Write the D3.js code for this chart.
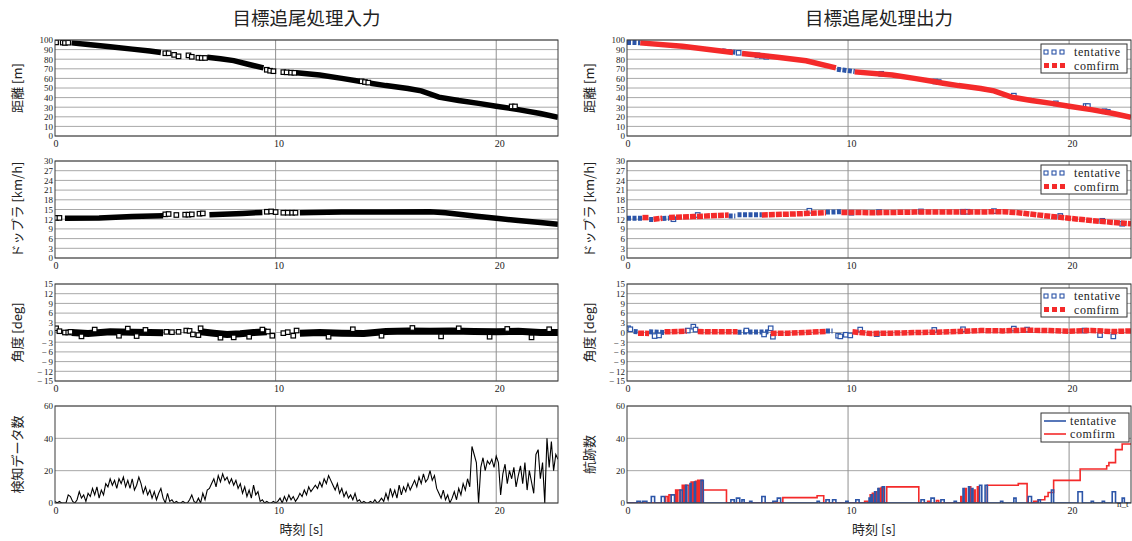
<!DOCTYPE html>
<meta charset="utf-8">
<script src="https://cdn.jsdelivr.net/npm/d3@7"></script>
<style>
body { margin: 0; background: #fff; }
svg text { font-family: "Liberation Serif", serif; fill: #222; }
.jp { font-family: "Noto Sans CJK JP", sans-serif; }
</style>
<body>
<script>

var width = 1132
var height = 541
var tMax = 22.8

// ---- labels / ticks ----
var titles = ["目標追尾処理入力", "目標追尾処理出力"]
var yLabelsIn = ["距離 [m]", "ドップラ [km/h]", "角度 [deg]", "検知データ数"]
var yLabelsOut = ["距離 [m]", "ドップラ [km/h]", "角度 [deg]", "航跡数"]
var xLabel = "時刻 [s]"
var xTicks = [0, 10, 20]
var yDomains = [[0, 100], [0, 30], [-15, 15], [0, 60]]
var yTicks = [
  [0, 10, 20, 30, 40, 50, 60, 70, 80, 90, 100],
  [0, 3, 6, 9, 12, 15, 18, 21, 24, 27, 30],
  [-15, -12, -9, -6, -3, 0, 3, 6, 9, 12, 15],
  [0, 20, 40, 60]
]
var legendNames = ["tentative", "comfirm"]

// ---- input: distance [t, m] ----
var inDistRuns = [
  [[0.75, 97], [1.5, 95.3], [2.5, 93], [3.5, 90.5], [4.3, 88.5], [4.8, 87]],
  [[6.9, 82], [7.5, 80.5], [8.1, 78.5], [8.8, 74.5], [9.45, 71]],
  [[10.95, 65.8], [12, 63.5], [13, 60], [13.8, 57]],
  [[14.3, 55], [15, 52.5], [16, 49.5], [16.6, 47], [17.4, 40.5], [18.3, 37], [19.2, 34], [20, 31], [21, 27.5], [22, 23.5], [22.8, 19.5]]
]
var inDistPts = [[0.05, 97.5], [0.35, 97.3], [0.45, 97], [0.6, 97.2], [5.0, 86.2], [5.15, 86.2], [5.4, 84.5], [5.6, 83],
  [6.05, 84], [6.2, 82.5], [6.5, 81.5], [6.65, 81.3], [6.8, 81.3], [9.6, 69], [9.75, 68], [9.9, 67.5],
  [10.35, 66.5], [10.5, 66.3], [10.7, 66], [10.85, 65.8], [13.9, 57], [14.05, 56.2], [14.2, 55.6], [20.7, 30.8], [20.85, 30.8]]

// ---- input: doppler [t, km/h] ----
var inDopRuns = [
  [[0.45, 12.3], [2, 12.4], [3.5, 12.8], [4.9, 13.1]],
  [[7, 13.4], [8.5, 13.8], [9.4, 14.1]],
  [[11.1, 14], [13, 14.2], [15, 14.2], [17, 14.3], [17.7, 14], [19, 13], [20, 12.3], [21, 11.6], [22, 11], [22.8, 10.4]]
]
var inDopPts = [[0.05, 12.4], [0.2, 12.4], [5.0, 13.5], [5.15, 13.6], [5.5, 13.3], [5.9, 13.4], [6.05, 13.4], [6.2, 13.5],
  [6.55, 13.7], [6.7, 13.8], [9.6, 14.3], [9.8, 14.4], [10.0, 14.2], [10.35, 14], [10.55, 14], [10.75, 14], [10.9, 14]]

// ---- input: angle [t, deg] ----
var inAngRuns = [
  [[0.75, 0], [1.5, -0.3], [2.5, 0.2], [3.5, 0.1], [4.3, 0], [4.9, -0.1]],
  [[6.5, 0.3], [7.2, -0.2], [7.8, -0.6], [8.4, -0.4], [9, 0], [9.6, 0.2]],
  [[11.1, -0.2], [12, 0], [13, -0.2], [14, -0.3], [15, 0.3], [16, 0.5], [17, 0.4], [18, 0.5], [19, 0.3], [20, 0.2], [21, 0.4], [22, 0], [22.8, 0]]
]
var inAngPts = [[0.05, 1.3], [0.2, 0.4], [0.45, 0], [0.6, 0], [0.7, 0.2], [1.2, -1.2], [1.8, 0.9], [2.9, -1], [3.3, 1.2],
  [3.7, -1.1], [4.1, 0.8], [5.05, 0.2], [5.3, 0.1], [5.6, 0.2], [5.95, 0.6], [6.1, 0.5], [6.25, -0.6], [6.5, -0.8],
  [6.6, 1.3], [7.5, -1.6], [8.1, -1.5], [8.8, -1.3], [9.4, 0.9], [9.65, 0.3], [9.85, -1], [10.35, -0.2], [10.55, 0.1],
  [10.8, -1], [10.95, 0.6], [12.4, -1.3], [13.5, 1], [14.8, -1], [16.2, 1.4], [17.5, -1.2], [18.3, 1.3], [19.7, -1.3],
  [20.5, 1.1], [21.6, -1.5], [22.4, 1]]

// ---- input: detection count, one value every 0.1 s ----
var inCountStep = 0.1
var inCount = [
  1, 0, 1, 0, 0, 0, 5, 4, 1, 0,
  2, 7, 3, 5, 1, 6, 4, 9, 5, 10,
  3, 8, 5, 12, 10, 15, 11, 14, 9, 15,
  12, 16, 10, 14, 9, 15, 8, 11, 16, 12,
  6, 10, 5, 8, 3, 7, 2, 6, 9, 3,
  0, 6, 1, 2, 0, 1, 0, 0, 1, 0,
  0, 2, 5, 1, 0, 3, 0, 6, 2, 8,
  9, 12, 15, 10, 17, 13, 18, 14, 16, 12,
  15, 11, 14, 9, 12, 6, 10, 4, 8, 3,
  11, 5, 7, 1, 2, 0, 1, 0, 0, 1,
  0, 1, 3, 0, 4, 1, 5, 2, 4, 1,
  3, 6, 4, 8, 5, 10, 7, 9, 11, 9,
  13, 10, 15, 12, 17, 14, 11, 8, 12, 6,
  9, 4, 7, 3, 5, 2, 6, 1, 2, 0,
  1, 0, 0, 1, 0, 2, 0, 1, 3, 1,
  6, 2, 9, 4, 8, 3, 11, 5, 10, 7,
  12, 8, 11, 14, 10, 16, 12, 18, 13, 15,
  20, 14, 17, 9, 6, 3, 8, 2, 5, 0,
  3, 7, 2, 9, 5, 12, 8, 15, 10, 35,
  30, 25, 0, 22, 28, 20, 26, 24, 27, 22,
  29, 25, 5, 18, 24, 12, 20, 15, 22, 10,
  17, 23, 12, 25, 8, 20, 13, 6, 30, 33,
  15, 25, 0, 40, 22, 38, 20, 30, 27
]

// ---- output: distance ----
var outDistConfirm = [
  [[0.6, 97], [2.5, 93.5], [4.8, 87]],
  [[5.2, 86], [6.9, 81.8], [8.1, 78.3], [9.45, 71]],
  [[10.3, 66.8], [12, 63.5], [13, 60], [13.8, 57], [14.3, 55], [15, 52.5], [16, 49.5], [16.6, 47], [17.4, 40.5],
   [18.3, 37], [19.2, 34], [20, 31], [21, 27.5], [22, 23.5], [22.8, 19.5]]
]
var outDistTentRuns = [
  [[0, 97.5], [0.6, 97.2]],
  [[4.3, 88.8], [4.9, 87.2]],
  [[9.5, 69.6], [10.3, 67.2]]
]
var outDistTentPts = [[5.05, 86.7], [5.9, 84], [6.1, 83.5], [6.3, 82.5], [11.5, 64.8], [13.95, 56.8], [14.1, 56.2],
  [17.5, 42], [19.4, 34], [20.75, 31.2], [20.85, 31.2], [21.6, 25.8], [21.75, 25.2]]

// ---- output: doppler ----
var outDopConfirm = [
  [[0.7, 12.5], [1.0, 12.5]],
  [[1.2, 12], [1.6, 12.3]],
  [[1.9, 12.5], [3, 12.8], [4.6, 13.3]],
  [[6.1, 13.3], [7.5, 13.6], [9, 14]],
  [[9.7, 14.1], [11.2, 14], [13, 14.2], [15, 14.2], [17, 14.3], [17.7, 14], [19, 13], [20, 12.3], [21, 11.6], [22, 11], [22.8, 10.6]]
]
var outDopTentRuns = [
  [[0, 12.3], [0.7, 12.3]],
  [[1.0, 11.9], [1.2, 11.9]],
  [[1.6, 12.2], [1.9, 12.3]],
  [[4.6, 13], [4.9, 13]],
  [[5.0, 13.4], [6.1, 13.4]],
  [[9.0, 14.2], [9.7, 14.3]]
]
var outDopTentPts = [[2.1, 12], [3.2, 13.3], [8.25, 14.6], [10.15, 14], [11.4, 14.2], [13.3, 14.4], [15.2, 14.3], [15.4, 14.3],
  [16.6, 14.5], [19.6, 13], [21.5, 11.5], [22.4, 10.6]]

// ---- output: angle ----
var outAngConfirm = [
  [[0.5, -0.2], [1, -0.3]],
  [[1.7, 0.2], [2.7, 0.4]],
  [[3.2, 0.3], [4.1, 0.2], [5.0, 0.2]],
  [[6.5, -0.3], [7.3, -0.2], [8.3, 0.1], [9, 0.3]],
  [[10.2, 0.2], [11, -0.3], [12, -0.2], [13, 0], [14, 0.1], [15, 0.3], [16, 0.6], [17, 0.5], [18, 0.7], [19, 0.6],
   [20, 0.4], [21, 0.6], [22, 0.3], [22.8, 0.5]]
]
var outAngTentRuns = [
  [[0.3, 0.3], [0.5, 0.2]],
  [[1, 0.2], [1.7, 0]],
  [[5.0, 0.1], [6.4, 0.2]],
  [[9, 0.5], [9.3, 0.5]]
]
var outAngTentPts = [[0.05, 1.3], [0.15, 1.0], [1.25, -1.1], [1.45, -0.9], [2.75, 0.6], [3.0, 1.8], [3.1, 0.9], [5.4, 0.6],
  [6.2, -0.6], [6.5, 1.3], [6.6, -1.3], [9.55, -1], [9.65, -1.2], [9.9, -0.7], [10.1, -0.9], [10.55, 0.9], [11.3, -0.5],
  [13.9, 0.8], [15.2, 1], [17.5, 1.2], [18.1, 0.9], [20.7, 0.6], [21.4, -0.8], [22.0, -1.2]]

// ---- output: track counts (step changes) ----
var outTrackConfirm = [[0, 0],
  [1.75, 4], [1.85, 0], [1.9, 5], [2.0, 0], [2.2, 8], [2.25, 0], [2.3, 8], [2.4, 0],
  [2.5, 11], [2.55, 0], [2.6, 11], [2.65, 0], [2.7, 11], [2.8, 0], [2.9, 13], [2.95, 0], [3.0, 13], [3.05, 0],
  [3.1, 13.5], [3.15, 0], [3.2, 14], [3.25, 0], [3.3, 14], [3.4, 0], [3.45, 8], [4.5, 0],
  [7.05, 3.3], [8.6, 4.5], [8.9, 0], [10.75, 1], [10.9, 0],
  [11.0, 5], [11.05, 0], [11.1, 6], [11.15, 0], [11.25, 7], [11.3, 0], [11.4, 9], [11.45, 0], [11.5, 9.5], [11.6, 0],
  [11.75, 10], [13.2, 0], [13.6, 1], [13.7, 0], [14.0, 1.5], [14.1, 0],
  [15.1, 4], [15.15, 0], [15.3, 9], [15.35, 0], [15.5, 10], [15.55, 0], [15.7, 8], [15.75, 0], [15.85, 10], [15.9, 0],
  [16.3, 11], [17.7, 12], [18.1, 0], [18.4, 1], [18.6, 2], [18.9, 4], [19.05, 6.5], [19.3, 14], [20.5, 21],
  [21.7, 23], [21.8, 25], [22.1, 33], [22.4, 36.5], [22.8, 36.5]]
var outTrackTent = [[0, 0],
  [0.45, 1], [0.6, 0], [0.7, 1], [0.9, 0], [1.1, 4], [1.25, 0], [1.55, 4], [1.7, 0], [2.0, 5], [2.15, 0],
  [2.4, 8], [2.5, 0], [2.65, 11], [2.7, 0], [2.85, 12], [2.9, 0], [3.05, 13], [3.1, 0], [3.35, 14], [3.45, 0],
  [4.7, 2], [4.85, 0], [4.95, 3], [5.1, 0], [5.2, 2], [5.3, 0], [5.55, 1], [5.65, 0], [6.1, 4], [6.25, 0],
  [6.6, 1], [6.8, 3], [6.95, 0], [8.6, 1], [8.7, 0], [9.0, 2], [9.15, 0], [9.3, 2], [9.45, 0], [9.9, 1], [10.0, 0],
  [10.35, 2], [10.5, 0], [10.95, 3], [11.0, 0], [11.05, 5], [11.1, 0], [11.2, 7], [11.25, 0], [11.35, 9], [11.4, 0],
  [11.55, 10], [11.65, 0], [13.3, 2], [13.45, 0], [13.75, 3], [13.9, 0], [14.2, 2], [14.35, 0], [14.8, 1], [14.9, 0],
  [15.2, 9], [15.25, 0], [15.45, 10], [15.5, 0], [15.6, 9], [15.65, 0], [15.95, 11], [16.05, 0], [16.2, 11], [16.3, 0],
  [16.9, 1], [17.0, 0], [17.5, 3], [17.6, 0], [18.15, 4], [18.3, 0], [18.6, 2], [18.7, 0], [19.2, 8], [19.3, 0],
  [20.4, 7], [20.6, 0], [21.0, 1], [21.1, 0], [21.5, 1], [21.6, 0], [21.95, 7], [22.1, 0], [22.4, 3], [22.5, 0], [22.8, 0]]

var blue = "#2c55a8"
var red = "#f42a2a"

var rows = [[40, 136], [161, 258], [284, 381], [406, 503]]
var cols = [[55, 558], [627, 1131]]

var svg = d3.select("body").append("svg")
  .attr("width", width)
  .attr("height", height)

function fmt(d) { return d < 0 ? "\u2212\u2009" + Math.abs(d) : d }

function panel(c, r) {
  var x = d3.scaleLinear().domain([0, tMax]).range(cols[c])
  var y = d3.scaleLinear().domain(yDomains[r]).range([rows[r][1], rows[r][0]])
  var g = svg.append("g")
  var id = "clip" + c + r
  svg.append("clipPath").attr("id", id).append("rect")
    .attr("x", cols[c][0]).attr("y", rows[r][0])
    .attr("width", cols[c][1] - cols[c][0]).attr("height", rows[r][1] - rows[r][0])

  g.selectAll(".hg").data(yTicks[r]).enter().append("line")
    .attr("x1", cols[c][0]).attr("x2", cols[c][1])
    .attr("y1", function(d) { return y(d) }).attr("y2", function(d) { return y(d) })
    .attr("stroke", "#a8a8a8").attr("stroke-width", 1)
  g.selectAll(".vg").data(xTicks.slice(1)).enter().append("line")
    .attr("y1", rows[r][0]).attr("y2", rows[r][1])
    .attr("x1", function(d) { return x(d) }).attr("x2", function(d) { return x(d) })
    .attr("stroke", "#909090").attr("stroke-width", 1)

  var ya = g.append("g").attr("transform", "translate(" + cols[c][0] + ",0)")
    .call(d3.axisLeft(y).tickValues(yTicks[r]).tickSize(0).tickPadding(2).tickFormat(fmt))
  ya.select(".domain").remove()
  ya.selectAll("text").style("font-size", "9px").attr("fill", "#222")

  var xa = g.append("g").attr("transform", "translate(0," + rows[r][1] + ")")
    .call(d3.axisBottom(x).tickValues(xTicks).tickSize(0).tickPadding(4))
  xa.select(".domain").remove()
  xa.selectAll("text").style("font-size", "10px").attr("text-anchor", "start").attr("dx", -2).attr("fill", "#222")

  var data = svg.append("g").attr("clip-path", "url(#" + id + ")")
  svg.append("rect")
    .attr("x", cols[c][0]).attr("y", rows[r][0])
    .attr("width", cols[c][1] - cols[c][0]).attr("height", rows[r][1] - rows[r][0])
    .attr("fill", "none").attr("stroke", "#3a3a3a").attr("stroke-width", 1)

  var labels = c == 0 ? yLabelsIn : yLabelsOut
  svg.append("text").attr("class", "jp")
    .attr("transform", "translate(" + (cols[c][0] - 33) + "," + ((rows[r][0] + rows[r][1]) / 2) + ") rotate(-90)")
    .attr("text-anchor", "middle").style("font-size", "13px").attr("fill", "#333")
    .text(labels[r])
  return { x: x, y: y, g: data }
}

function runs(p, list, color, w, dash) {
  var line = d3.line().x(function(d) { return p.x(d[0]) }).y(function(d) { return p.y(d[1]) })
  p.g.selectAll(null).data(list).enter().append("path")
    .attr("d", line).attr("fill", "none").attr("stroke", color)
    .attr("stroke-width", w).attr("stroke-dasharray", dash || null)
}

function squares(p, list, color, s) {
  p.g.selectAll(null).data(list).enter().append("rect")
    .attr("x", function(d) { return p.x(d[0]) - s / 2 })
    .attr("y", function(d) { return p.y(d[1]) - s / 2 })
    .attr("width", s).attr("height", s)
    .attr("fill", "#fff").attr("stroke", color).attr("stroke-width", 1.2)
}

function markerLegend(r) {
  var x0 = 1041, y0 = rows[r][0] + 4
  var lg = svg.append("g")
  lg.append("rect").attr("x", x0).attr("y", y0).attr("width", 86).attr("height", 29)
    .attr("fill", "#fff").attr("stroke", "#333")
  lg.selectAll(null).data([0, 1, 2]).enter().append("rect")
    .attr("x", function(d) { return x0 + 3 + d * 8 }).attr("y", y0 + 6)
    .attr("width", 4).attr("height", 4).attr("fill", "#fff").attr("stroke", blue).attr("stroke-width", 1.1)
  lg.selectAll(null).data([0, 1, 2]).enter().append("rect")
    .attr("x", function(d) { return x0 + 3 + d * 8 }).attr("y", y0 + 19)
    .attr("width", 5).attr("height", 5).attr("fill", red)
  lg.selectAll(null).data(legendNames).enter().append("text")
    .attr("x", x0 + 33).attr("y", function(d, i) { return y0 + 12 + i * 14 })
    .style("font-size", "12px").style("letter-spacing", "0.6px").text(function(d) { return d })
}

function lineLegend(r) {
  var x0 = 1041, y0 = rows[r][0] + 7
  var lg = svg.append("g")
  lg.append("rect").attr("x", x0).attr("y", y0).attr("width", 88).attr("height", 29)
    .attr("fill", "#fff").attr("stroke", "#333")
  lg.selectAll(null).data([blue, red]).enter().append("line")
    .attr("x1", x0 + 3).attr("x2", x0 + 25)
    .attr("y1", function(d, i) { return y0 + 8 + i * 13 }).attr("y2", function(d, i) { return y0 + 8 + i * 13 })
    .attr("stroke", function(d) { return d }).attr("stroke-width", 1.6)
  lg.selectAll(null).data(legendNames).enter().append("text")
    .attr("x", x0 + 29).attr("y", function(d, i) { return y0 + 12 + i * 13 })
    .style("font-size", "12px").style("letter-spacing", "0.6px").text(function(d) { return d })
}

// titles and x labels
titles.forEach(function(t, c) {
  var cx = (cols[c][0] + cols[c][1]) / 2
  svg.append("text").attr("class", "jp").attr("x", cx).attr("y", 25)
    .attr("text-anchor", "middle").style("font-size", "18.5px").attr("fill", "#555").text(t)
  svg.append("text").attr("class", "jp").attr("x", cx - 5).attr("y", 534)
    .attr("text-anchor", "middle").style("font-size", "13px").attr("fill", "#333").text(xLabel)
})

// ---- left column: input ----
var p = panel(0, 0)
runs(p, inDistRuns, "#000", 5.5)
squares(p, inDistPts, "#000", 4.5)

p = panel(0, 1)
runs(p, inDopRuns, "#000", 5.5)
squares(p, inDopPts, "#000", 4.5)

p = panel(0, 2)
runs(p, inAngRuns, "#000", 7)
squares(p, inAngPts, "#000", 4.5)

p = panel(0, 3)
p.g.append("path")
  .datum(inCount)
  .attr("d", d3.line().x(function(d, i) { return p.x(i * inCountStep) }).y(function(d) { return p.y(d) }))
  .attr("fill", "none").attr("stroke", "#000").attr("stroke-width", 1.1)

// ---- right column: output ----
p = panel(1, 0)
runs(p, outDistTentRuns, blue, 5, "4,1.5")
squares(p, outDistTentPts, blue, 4.5)
runs(p, outDistConfirm, red, 5.5)
markerLegend(0)

p = panel(1, 1)
runs(p, outDopTentRuns, blue, 5, "4,1.5")
squares(p, outDopTentPts, blue, 4.5)
runs(p, outDopConfirm, red, 5.5, "6,1")
markerLegend(1)

p = panel(1, 2)
runs(p, outAngTentRuns, blue, 5, "4,1.5")
squares(p, outAngTentPts, blue, 4.5)
runs(p, outAngConfirm, red, 5.5, "6,1")
markerLegend(2)

p = panel(1, 3)
var step = d3.line().curve(d3.curveStepAfter)
  .x(function(d) { return p.x(d[0]) }).y(function(d) { return p.y(d[1]) })
p.g.append("path").datum(outTrackConfirm).attr("d", step)
  .attr("fill", "none").attr("stroke", red).attr("stroke-width", 1.6)
p.g.append("path").datum(outTrackTent).attr("d", step)
  .attr("fill", "none").attr("stroke", blue).attr("stroke-width", 1.6)
lineLegend(3)
svg.append("text").attr("x", 1117).attr("y", 507).style("font-size", "9px").text("n_t")

</script>
</body>
